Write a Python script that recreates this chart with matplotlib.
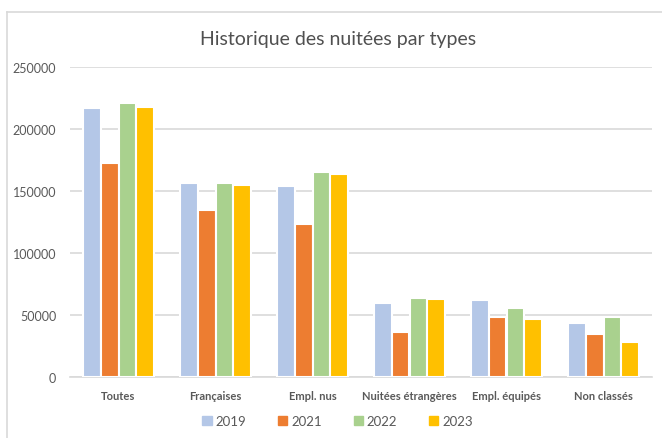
"""Historique des nuitées par types - grouped bar chart."""

import matplotlib

matplotlib.use("Agg")
import matplotlib.pyplot as plt
import numpy as np
from matplotlib.lines import Line2D

plt.rcParams["font.family"] = ["Lato", "DejaVu Sans"]

# Data
categories = [
    "Toutes",
    "Françaises",
    "Empl. nus",
    "Nuitées étrangères",
    "Empl. équipés",
    "Non classés",
]
years = ["2019", "2021", "2022", "2023"]
v2019 = [216500, 156700, 154000, 59600, 62200, 43500]
v2021 = [172300, 134900, 123200, 36700, 48500, 34900]
v2022 = [220800, 156700, 165300, 63600, 55500, 48500]
v2023 = [217800, 154600, 163700, 63000, 46900, 28700]
yticks = [0, 50000, 100000, 150000, 200000, 250000]

colors = ["#B4C7E7", "#ED7D31", "#A9D18E", "#FFC000"]
text_col = "#595959"

fig = plt.figure(figsize=(6.62, 4.39), dpi=100)
ax = fig.add_axes([70 / 662, 1 - 378.3 / 439, 582 / 662, 310.6 / 439])

x = np.arange(len(categories))
pitch = 0.182
for i, (vals, col) in enumerate(zip([v2019, v2021, v2022, v2023], colors)):
    ax.bar(
        x + (i - 1.5) * pitch,
        vals,
        width=pitch,
        color=col,
        edgecolor="white",
        linewidth=1.5,
        label=years[i],
        zorder=3,
    )

ax.set_xlim(-0.5, len(categories) - 0.5)
ax.set_ylim(0, 250000)
ax.set_yticks(yticks)
ax.set_yticklabels([str(t) for t in yticks], fontsize=9, color=text_col)
ax.set_xticks(x)
ax.set_xticklabels(categories, fontsize=8, fontweight="bold", color=text_col)
ax.tick_params(axis="both", length=0)
ax.tick_params(axis="y", pad=10)
ax.tick_params(axis="x", pad=9)
ax.yaxis.grid(True, color="#D9D9D9", linewidth=1.2, zorder=0)
for s in ["top", "right", "left"]:
    ax.spines[s].set_visible(False)
ax.spines["bottom"].set_color("#D9D9D9")
ax.spines["bottom"].set_linewidth(1.2)

fig.text(0.51, 1 - 40 / 439, "Historique des nuitées par types",
         ha="center", va="center", fontsize=14, color="#505050")

handles = [plt.Rectangle((0, 0), 1, 1, color=c) for c in colors]
fig.legend(
    handles,
    years,
    loc="center",
    bbox_to_anchor=(0.51, 1 - 422 / 439),
    ncol=4,
    frameon=False,
    fontsize=9.5,
    handlelength=0.7,
    handleheight=0.7,
    handletextpad=0.3,
    columnspacing=2.4,
    labelcolor=text_col,
)

# Chart area border (only top and left visible in the crop)
fig.add_artist(Line2D([7 / 662, 7 / 662], [0, 1 - 13 / 439], color="#D9D9D9", lw=1.2))
fig.add_artist(Line2D([7 / 662, 1], [1 - 13 / 439, 1 - 13 / 439], color="#D9D9D9", lw=1.2))

fig.savefig("out.png", dpi=100)
plt.close(fig)
